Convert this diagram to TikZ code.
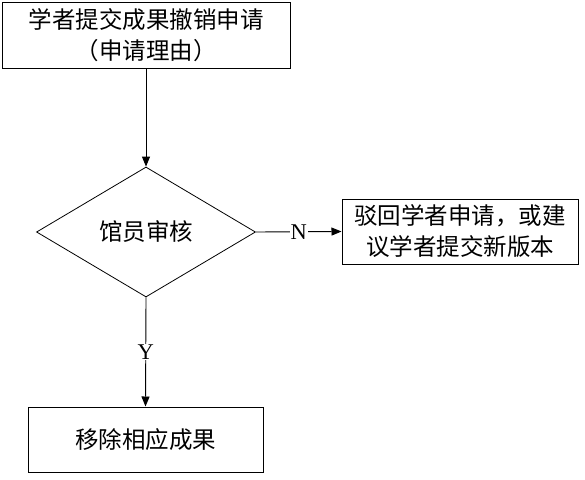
\documentclass[tikz,border=0pt]{standalone}
\usepackage{fontspec}
\setmainfont{Liberation Serif}
\newfontfamily\cjk{Noto Sans CJK SC}
\usetikzlibrary{shapes.geometric,arrows.meta}
\begin{document}
\begin{tikzpicture}[x=1pt,y=-1pt,
  boxnode/.style={draw=black,line width=1pt,rectangle,inner sep=0pt,align=center,
    font=\cjk\fontsize{23.5}{31}\selectfont},
  decnode/.style={draw=black,line width=0.8pt,diamond,inner sep=0pt,
    minimum width=219pt,minimum height=130pt,font=\cjk\fontsize{23.5}{31}\selectfont},
  conn/.style={line width=0.9pt,-{Triangle[length=10pt,width=8pt]}},
  lab/.style={fill=white,inner sep=1pt,font=\fontsize{22.5}{24}\selectfont}]
\useasboundingbox (0,0) rectangle (585,479);
\node[boxnode,minimum width=288pt,minimum height=66pt] (top) at (146,35)
  {学者提交成果撤销申请\\（申请理由）};
\node[decnode] (dec) at (146,232) {馆员审核};
\node[boxnode,minimum width=236pt,minimum height=65pt] (rej) at (460,231.5)
  {驳回学者申请，或建\\议学者提交新版本};
\node[boxnode,minimum width=235pt,minimum height=65pt] (rem) at (145.5,439.5)
  {移除相应成果};
\draw[conn] (top.south) -- (dec.north);
\draw[conn] (dec.east) -- node[lab] (n) {N} (rej.west);
\draw[conn] (dec.south) -- node[lab] (y) {Y} (rem.north);
\end{tikzpicture}
\end{document}
